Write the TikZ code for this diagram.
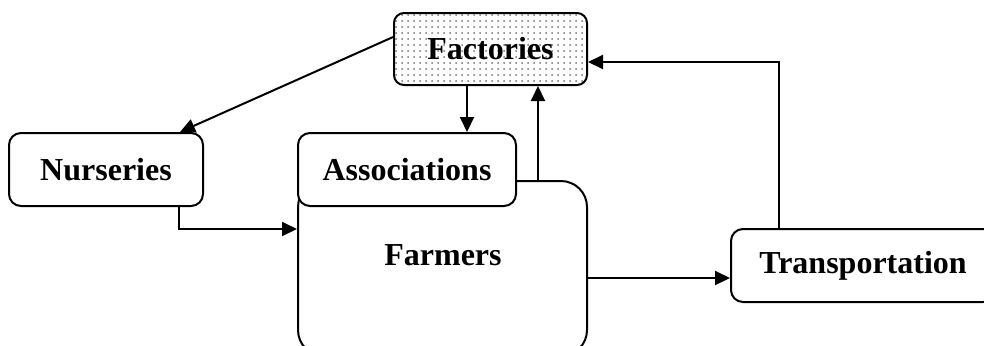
\documentclass[tikz,border=0pt]{standalone}
\usepackage{fontspec}
\setmainfont{Liberation Serif}
\usetikzlibrary{arrows.meta,patterns}

\begin{document}
\begin{tikzpicture}[x=0.5pt,y=-0.5pt,
    box/.style={draw,line width=1pt,fill=white,inner sep=0pt,rounded corners=6pt,
      font=\bfseries\fontsize{16}{19}\selectfont},
    arr/.style={line width=1pt,-{Triangle[length=7.5pt,width=7pt]}}]
      \clip (0,0) rectangle (984,345);

      \node[box,minimum width=96.5pt,minimum height=36pt,rounded corners=5pt,
        fill=none,pattern=dots,pattern color=black!55] (fact) at (490.5,49) {};
      \node[font=\bfseries\fontsize{16}{19}\selectfont] (facttxt) at (490.5,49) {Factories};
      \node[box,minimum width=97pt,minimum height=36.5pt] (nurs) at (106,169.5) {Nurseries};
      \node[box,minimum width=144.5pt,minimum height=87.5pt,rounded corners=13pt] (farm) at (442.5,268.5) {};
      \node[font=\bfseries\fontsize{16}{19}\selectfont] (farmtxt) at (443,255) {Farmers};
      \node[box,minimum width=109pt,minimum height=36.5pt] (assoc) at (407,169.5) {Associations};
      \node[box,minimum width=132pt,minimum height=36.5pt] (trans) at (863,265.5) {Transportation};

      \draw[arr] (fact.173.5) -- ([xshift=37pt]nurs.north);
      \draw[arr] ([xshift=-11.75pt]fact.south) -- ([xshift=-11.75pt]fact.south |- assoc.north);
      \draw[arr] ([xshift=47.75pt]farm.north) -- ([xshift=47.75pt]farm.north |- fact.south);
      \draw[arr] ([xshift=36.5pt]nurs.south) |- ([yshift=19.75pt]farm.west);
      \draw[arr] ([yshift=-4.75pt]farm.east) -- ([yshift=-4.75pt]farm.east -| trans.west);
      \draw[arr] ([xshift=-42pt]trans.north) |- ([yshift=-6.5pt]fact.east);
    \end{tikzpicture}
\end{document}
